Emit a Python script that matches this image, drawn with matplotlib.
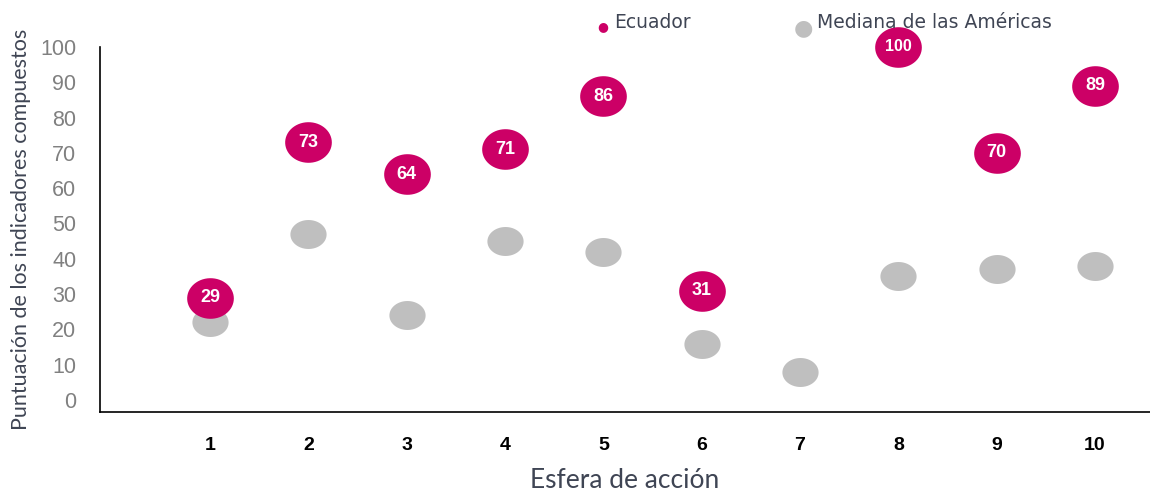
import matplotlib
matplotlib.use("Agg")
import matplotlib.pyplot as plt
import numpy as np
from matplotlib.path import Path

esferas = [1, 2, 3, 4, 5, 6, 7, 8, 9, 10]
ecuador = [29, 73, 64, 71, 86, 31, None, 100, 70, 89]
mediana = [22, 47, 24, 45, 42, 16, 8, 35, 37, 38]
y_ticks = [0, 10, 20, 30, 40, 50, 60, 70, 80, 90, 100]

MAG = "#CC0066"
GRAY = "#BFBFBF"
TXT = "#3F4554"

t = np.linspace(0, 2 * np.pi, 60)
ell_mag = Path(np.column_stack([np.cos(t), 0.87 * np.sin(t)]))
ell_gray = Path(np.column_stack([np.cos(t), 0.8 * np.sin(t)]))

fig = plt.figure(figsize=(11.5, 4.98), dpi=100)
ax = fig.add_axes([0.087, 0.1727, 0.913, 0.733])

ax.scatter(esferas, mediana, marker=ell_gray, s=680, color=GRAY, zorder=2,
           linewidths=0, clip_on=False)
ex = [x for x, v in zip(esferas, ecuador) if v is not None]
ev = [v for v in ecuador if v is not None]
ax.scatter(ex, ev, marker=ell_mag, s=1130, color=MAG, zorder=3,
           linewidths=0, clip_on=False)
for x, v in zip(ex, ev):
    ax.text(x, v, str(v), ha="center", va="center", color="white",
            fontsize=13 if v < 100 else 11.5, fontweight="bold",
            family="Liberation Sans", zorder=4)

ax.set_xlim(-0.12, 10.56)
ax.set_ylim(-3.4, 100)
ax.set_yticks(y_ticks)
ax.set_yticklabels([str(v) for v in y_ticks], color="#808080",
                   fontsize=15.5, family="Liberation Sans")
ax.set_xticks(esferas)
ax.set_xticklabels([str(v) for v in esferas], fontsize=14,
                   fontweight="bold", family="Liberation Sans", color="black")
ax.tick_params(axis="both", length=0)
ax.tick_params(axis="x", pad=18)
ax.tick_params(axis="y", pad=17)
for s in ["top", "right"]:
    ax.spines[s].set_visible(False)
ax.spines["left"].set_color("black")
ax.spines["bottom"].set_color("black")
ax.spines["left"].set_linewidth(1.2)
ax.spines["bottom"].set_linewidth(1.2)

ax.set_xlabel("Esfera de acción", fontsize=19, color=TXT, family="Lato",
              labelpad=10)
ax.set_ylabel("Puntuación de los indicadores compuestos", fontsize=15.5,
              color=TXT, family="Lato")
ax.yaxis.set_label_coords(-0.066, 0.5)

# legend
fig.text(603 / 1150, 1 - 27 / 498, "\u25CF", color=MAG, fontsize=9,
         ha="center", va="center")
fig.text(614 / 1150, 1 - 22 / 498, "Ecuador", color=TXT, fontsize=13.5,
         ha="left", va="center", family="DejaVu Sans")
fig.text(803 / 1150, 1 - 28 / 498, "\u25CF", color=GRAY, fontsize=16,
         ha="center", va="center")
fig.text(817 / 1150, 1 - 22 / 498, "Mediana de las Américas", color=TXT,
         fontsize=13.5, ha="left", va="center", family="DejaVu Sans")

fig.savefig("out.png", dpi=100)
